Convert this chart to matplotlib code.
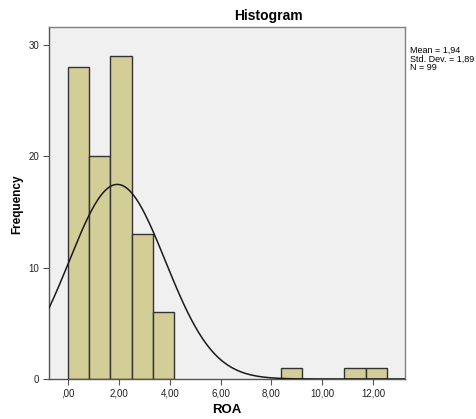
import numpy as np
import matplotlib.pyplot as plt

plt.rcParams['font.family'] = ['Liberation Sans', 'DejaVu Sans']

# histogram of ROA (bins start at 0, equal width)
bin_start = 0.0
bin_width = 0.836
counts = [28, 20, 29, 13, 6, 0, 0, 0, 0, 0, 1, 0, 0, 1, 1]
mean_roa = 1.94
sd_roa = 1.89
n_obs = 99
xticks = [0, 2, 4, 6, 8, 10, 12]
xticklabels = [',00', '2,00', '4,00', '6,00', '8,00', '10,00', '12,00']
yticks = [0, 10, 20, 30]

W, H = 476, 419
fig = plt.figure(figsize=(W / 100, H / 100), dpi=100)
ax = fig.add_axes([49 / W, 40 / H, 356 / W, 352 / H])
ax.set_facecolor('#f0f0f0')

lefts = [bin_start + i * bin_width for i in range(len(counts))]
keep = [i for i, c in enumerate(counts) if c > 0]
ax.bar([lefts[i] for i in keep], [counts[i] for i in keep], width=bin_width,
       align='edge', color='#d3ce97', edgecolor='#333333', linewidth=1.0, zorder=2)

xmin, xmax = -0.745, 13.25
ax.set_xlim(xmin, xmax)
ax.set_ylim(0, 31.6)

# normal curve scaled to the histogram
xs = np.linspace(xmin, xmax, 500)
ys = n_obs * bin_width * np.exp(-0.5 * ((xs - mean_roa) / sd_roa) ** 2) / (sd_roa * np.sqrt(2 * np.pi))
ax.plot(xs, ys, color='#1a1a1a', linewidth=1.1, zorder=3)

ax.set_xticks(xticks)
ax.set_xticklabels(xticklabels)
ax.set_yticks(yticks)
ax.tick_params(axis='both', direction='out', length=4, width=0.8, color='#555555',
               labelsize=7, labelcolor='#222222', pad=3)

for s in ax.spines.values():
    s.set_color('#808080')
    s.set_linewidth(1.0)
ax.spines['bottom'].set_color('#555555')
ax.spines['left'].set_color('#555555')

# axis titles placed in figure pixels like the SPSS output
fig.text(227 / W, 1 - 410 / H, 'ROA', fontsize=9.5, fontweight='bold',
         ha='center', va='center')
fig.text(17 / W, 1 - 204 / H, 'Frequency', fontsize=8.5, fontweight='bold',
         ha='center', va='center', rotation=90)

fig.text(268 / W, 1 - 16 / H, 'Histogram', fontsize=10, fontweight='bold',
         ha='center', va='center')
fig.text(410 / W, 1 - 46 / H, 'Mean = 1,94\nStd. Dev. = 1,89\nN = 99',
         fontsize=6.5, ha='left', va='top', linespacing=0.95)

fig.savefig('out.png', dpi=100)
